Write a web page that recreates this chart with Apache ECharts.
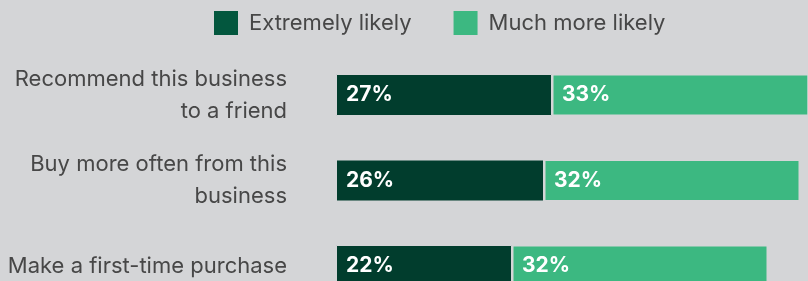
<!DOCTYPE html>
<html>
<head>
<meta charset="utf-8">
<script src="https://cdn.jsdelivr.net/npm/echarts@6/dist/echarts.min.js"></script>
<style>
  html, body { margin: 0; padding: 0; background: #d4d5d7; overflow: hidden; }
  /* chart is taller than the window: the bottom row is cut off like in the source */
  #chart { width: 808px; height: 320px; }
</style>
</head>
<body>
<div id="chart"></div>
<script>
// categories (top to bottom)
const categories = [
  "Recommend this business\nto a friend",
  "Buy more often from this\nbusiness",
  "Make a first-time purchase"
];
const seriesNames = ["Extremely likely", "Much more likely"];
const extremelyLikely = [27, 26, 22];
const muchMoreLikely = [33, 32, 32];

const bg = "#d4d5d7";
const darkGreen = "#013d2d";
const lightGreen = "#3cb881";
const textColor = "#474747";
const font = "Inter, 'Noto Sans', sans-serif";

const chart = echarts.init(document.getElementById("chart"));

const barLabel = {
  show: true,
  position: "insideLeft",
  distance: 10,
  color: "#ffffff",
  fontFamily: font,
  fontWeight: 700,
  fontSize: 21,
  formatter: (p) => p.value + "%"
};

const option = {
  backgroundColor: bg,
  animation: false,
  legend: {
    left: 214,
    top: 11,
    padding: 0,
    icon: "rect",
    itemWidth: 24,
    itemHeight: 24,
    itemGap: 42,
    textStyle: {
      color: textColor,
      fontFamily: font,
      fontSize: 22,
      padding: [0, 0, 0, 6]
    },
    data: [
      { name: seriesNames[0], itemStyle: { color: "#03573e", borderWidth: 0 } },
      { name: seriesNames[1], itemStyle: { color: lightGreen, borderWidth: 0 } }
    ]
  },
  grid: {
    left: 336,
    top: 52.25,
    width: 472,
    height: 256.5,
    containLabel: false
  },
  xAxis: {
    type: "value",
    min: 0,
    max: 59,
    show: false
  },
  yAxis: {
    type: "category",
    inverse: true,
    data: categories,
    axisLine: { show: false },
    axisTick: { show: false },
    axisLabel: {
      align: "right",
      margin: 49,
      color: textColor,
      fontFamily: font,
      fontSize: 22,
      lineHeight: 32
    }
  },
  series: [
    {
      name: seriesNames[0],
      type: "bar",
      stack: "total",
      data: extremelyLikely,
      barWidth: 42,
      itemStyle: { color: darkGreen, borderColor: bg, borderWidth: 1 },
      label: barLabel
    },
    {
      name: seriesNames[1],
      type: "bar",
      stack: "total",
      data: muchMoreLikely,
      barWidth: 42,
      itemStyle: { color: lightGreen, borderColor: bg, borderWidth: 1.5 },
      label: barLabel
    }
  ]
};

chart.setOption(option);
</script>
</body>
</html>
